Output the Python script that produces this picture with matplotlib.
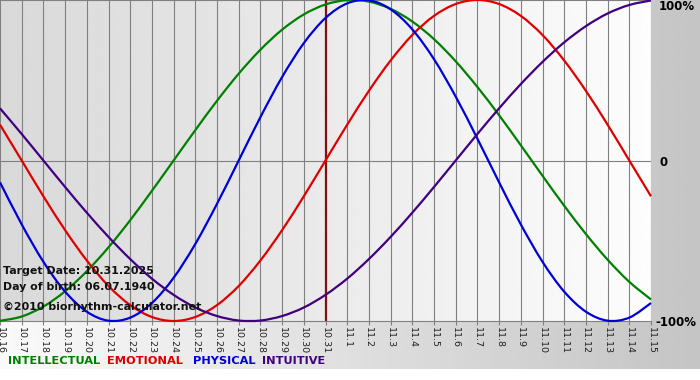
#! /usr/bin/env python3

import numpy as np
import matplotlib
matplotlib.use("Agg")
import matplotlib.pyplot as plt
from matplotlib.path import Path
from matplotlib.patches import PathPatch

datum = ["10.16", "10.17", "10.18", "10.19", "10.20", "10.21", "10.22", "10.23",
         "10.24", "10.25", "10.26", "10.27", "10.28", "10.29", "10.30", "10.31",
         "11.1", "11.2", "11.3", "11.4", "11.5", "11.6", "11.7", "11.8", "11.9",
         "11.10", "11.11", "11.12", "11.13", "11.14", "11.15"]

intellectual = [-0.999, -0.972, -0.910, -0.815, -0.690, -0.541, -0.372, -0.189, 0.000,
                0.189, 0.372, 0.541, 0.690, 0.815, 0.910, 0.972, 0.999, 0.990, 0.945,
                0.866, 0.756, 0.618, 0.458, 0.282, 0.095, -0.095, -0.282, -0.458,
                -0.618, -0.756, -0.866]
emotional = [0.223, 0.000, -0.223, -0.434, -0.623, -0.782, -0.901, -0.975, -1.000,
             -0.975, -0.901, -0.782, -0.623, -0.434, -0.223, 0.000, 0.223, 0.434,
             0.623, 0.782, 0.901, 0.975, 1.000, 0.975, 0.901, 0.782, 0.623, 0.434,
             0.223, 0.000, -0.223]
physical = [-0.136, -0.398, -0.631, -0.817, -0.942, -0.998, -0.979, -0.888, -0.731,
            -0.520, -0.270, 0.000, 0.270, 0.520, 0.731, 0.888, 0.979, 0.998, 0.942,
            0.817, 0.631, 0.398, 0.136, -0.136, -0.398, -0.631, -0.817, -0.942,
            -0.998, -0.979, -0.888]
intuitive = [0.325, 0.165, 0.000, -0.165, -0.325, -0.476, -0.614, -0.736, -0.837,
             -0.916, -0.969, -0.997, -0.997, -0.969, -0.916, -0.837, -0.736, -0.614,
             -0.476, -0.325, -0.165, 0.000, 0.165, 0.325, 0.476, 0.614, 0.736, 0.837,
             0.916, 0.969, 0.997]

zieltag = "10.31"
reihen = [("INTELLECTUAL", intellectual, "#008000"),
          ("EMOTIONAL", emotional, "#e00000"),
          ("PHYSICAL", physical, "#0000d8"),
          ("INTUITIVE", intuitive, "#400080")]


def glatte_kurve(xs, ys):
    # catmull-rom als bezier, damit die kurven rund aussehen
    verts = [(xs[0], ys[0])]
    codes = [Path.MOVETO]
    n = len(xs)
    for i in range(n - 1):
        a = max(i - 1, 0)
        b = min(i + 2, n - 1)
        c1 = (xs[i] + (xs[i + 1] - xs[a]) / 6, ys[i] + (ys[i + 1] - ys[a]) / 6)
        c2 = (xs[i + 1] - (xs[b] - xs[i]) / 6, ys[i + 1] - (ys[b] - ys[i]) / 6)
        verts += [c1, c2, (xs[i + 1], ys[i + 1])]
        codes += [Path.CURVE4] * 3
    return Path(verts, codes)


W, H = 700, 380
fig = plt.figure(figsize=(7, 3.8), dpi=100)
fig.patch.set_facecolor("white")

# hintergrund mit verlauf
bg = fig.add_axes([0, 11 / H, 1, 369 / H])
bg.imshow(np.linspace(0.98, 0.77, 256).reshape(1, -1), cmap="gray", vmin=0, vmax=1,
          aspect="auto", extent=[0, 1, 0, 1])
bg.set_axis_off()

ax = fig.add_axes([0, 1 - 321 / H, 651 / W, 321 / H])
ax.imshow(np.linspace(0.85, 0.99, 256).reshape(1, -1), cmap="gray", vmin=0, vmax=1,
          aspect="auto", extent=[0, 1, 0, 1], transform=ax.transAxes, zorder=0)

x = np.arange(len(datum))
ax.set_xlim(0, len(datum) - 1)
ax.set_ylim(-1.0, 1.0)

for xi in x:
    ax.axvline(xi, color="#808080", lw=0.8, zorder=1)
ax.axhline(0, color="#808080", lw=0.8, zorder=1)
ax.axhline(1.0, color="#808080", lw=0.8, zorder=1)

ziel = datum.index(zieltag)
ax.axvline(ziel, color="#801010", lw=1.6, zorder=2)

for name, werte, farbe in reihen:
    ax.add_patch(PathPatch(glatte_kurve(x, werte), facecolor="none", edgecolor=farbe,
                           lw=1.6, zorder=3, clip_on=False))

for s in ["top", "left", "right"]:
    ax.spines[s].set_visible(False)
ax.spines["bottom"].set_color("#808080")
ax.spines["bottom"].set_linewidth(0.8)

ax.set_xticks(x)
ax.set_xticklabels(datum, rotation=270, fontsize=6.8, color="#202020")
ax.tick_params(axis="x", length=3, color="#808080", pad=1.5)
ax.set_yticks([])

infos = [("Target Date: 10.31.2025", 271), ("Day of birth: 06.07.1940", 287),
         ("\u00a92010 biorhythm-calculator.net", 307)]
for txt, ypx in infos:
    fig.text(3 / W, 1 - ypx / H, txt, fontsize=7.9, fontweight="bold",
             color="#101010", va="center", ha="left", zorder=10)

fig.text(659 / W, 1 - 7 / H, "100%", fontsize=8.5, fontweight="bold", va="center")
fig.text(659 / W, 1 - 162 / H, "0", fontsize=8.5, fontweight="bold", va="center")
fig.text(655 / W, 1 - 322 / H, "-100%", fontsize=8.5, fontweight="bold", va="center")

legende_x = [8, 107, 193, 262]
for (name, werte, farbe), lx in zip(reihen, legende_x):
    fig.text(lx / W, 1 - 361 / H, name, fontsize=8.2, fontweight="bold",
             color=farbe, va="center", ha="left")

plt.savefig("out.png", dpi=100)
